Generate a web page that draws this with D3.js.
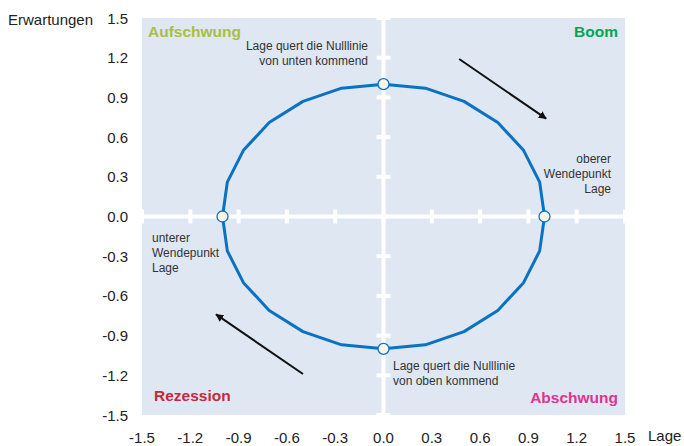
<!DOCTYPE html>
<html lang="de">
<head>
<meta charset="UTF-8">
<title>Konjunkturuhr</title>
<script src="https://d3js.org/d3.v7.min.js"></script>
<style>
    body { margin: 0; background: #fff; }
    svg text { font-family: "Liberation Sans", Arial, sans-serif; }
    .tick-label { font-size: 15px; fill: #222; }
    .note { font-size: 12px; fill: #333; }
    .phase { font-size: 15.5px; font-weight: bold; }
</style>
</head>
<body>
<div id="chart"></div>
<script>
    // Konjunkturzyklus: Lage (x) gegen Erwartungen (y)
    var lage = [0, 0.26, 0.5, 0.71, 0.87, 0.97, 1, 0.97, 0.87, 0.71, 0.5, 0.26,
                0, -0.26, -0.5, -0.71, -0.87, -0.97, -1, -0.97, -0.87, -0.71, -0.5, -0.26, 0];
    var erwartungen = [1, 0.97, 0.87, 0.71, 0.5, 0.26, 0, -0.26, -0.5, -0.71, -0.87, -0.97,
                       -1, -0.97, -0.87, -0.71, -0.5, -0.26, 0, 0.26, 0.5, 0.71, 0.87, 0.97, 1];

    // markierte Punkte (Nulldurchgänge)
    var markLage = [0, 1, 0, -1];
    var markErw = [1, 0, -1, 0];

    var ticks = [-1.5, -1.2, -0.9, -0.6, -0.3, 0, 0.3, 0.6, 0.9, 1.2, 1.5];
    var tickLabels = ["-1.5", "-1.2", "-0.9", "-0.6", "-0.3", "0.0", "0.3", "0.6", "0.9", "1.2", "1.5"];

    var phases = ["Aufschwung", "Boom", "Rezession", "Abschwung"];

    var width = 684, height = 446;

    var x = d3.scaleLinear().domain([-1.5, 1.5]).range([142, 625]);
    var y = d3.scaleLinear().domain([-1.5, 1.5]).range([415, 18]);

    var svg = d3.select("#chart").append("svg")
        .attr("width", width)
        .attr("height", height);

    svg.append("defs").append("marker")
        .attr("id", "arrow")
        .attr("viewBox", "0 0 10 10")
        .attr("refX", 9).attr("refY", 5)
        .attr("markerWidth", 4).attr("markerHeight", 4)
        .attr("orient", "auto")
      .append("path")
        .attr("d", "M0,0 L10,5 L0,10 z")
        .attr("fill", "#111");

    // Hintergrund
    svg.append("rect")
        .attr("x", x(-1.5)).attr("y", y(1.5))
        .attr("width", x(1.5) - x(-1.5))
        .attr("height", y(-1.5) - y(1.5))
        .attr("fill", "#dfe7f3");

    // Achsen als weiße Linien
    svg.append("line")
        .attr("x1", x(-1.5)).attr("x2", x(1.5))
        .attr("y1", y(0)).attr("y2", y(0))
        .attr("stroke", "#fff").attr("stroke-width", 4);
    svg.append("line")
        .attr("x1", x(0)).attr("x2", x(0))
        .attr("y1", y(1.5)).attr("y2", y(-1.5))
        .attr("stroke", "#fff").attr("stroke-width", 4);

    // Tickmarken auf den Achsen
    svg.selectAll(".xmark").data(ticks).enter().append("line")
        .attr("x1", d => x(d)).attr("x2", d => x(d))
        .attr("y1", y(0) - 7).attr("y2", y(0) + 7)
        .attr("stroke", "#fff").attr("stroke-width", 4);
    svg.selectAll(".ymark").data(ticks).enter().append("line")
        .attr("x1", x(0) - 7).attr("x2", x(0) + 7)
        .attr("y1", d => y(d)).attr("y2", d => y(d))
        .attr("stroke", "#fff").attr("stroke-width", 4);

    // Achsenbeschriftung
    svg.selectAll(".xlab").data(ticks).enter().append("text")
        .attr("class", "tick-label")
        .attr("x", d => x(d)).attr("y", 443)
        .attr("text-anchor", "middle")
        .text((d, i) => tickLabels[i]);
    svg.selectAll(".ylab").data(ticks).enter().append("text")
        .attr("class", "tick-label")
        .attr("x", 128).attr("y", d => y(d) + 5.5)
        .attr("text-anchor", "end")
        .text((d, i) => tickLabels[i]);

    svg.append("text").attr("class", "tick-label")
        .attr("x", 8).attr("y", 25).text("Erwartungen");
    svg.append("text").attr("class", "tick-label")
        .attr("x", 648).attr("y", 441).text("Lage");

    // Phasen
    var phaseColor = ["#a8c03d", "#00a651", "#c8283c", "#e0338e"];
    var phasePos = [[148, 37, "start"], [618, 37, "end"], [154, 401, "start"], [618, 403, "end"]];
    svg.selectAll(".phase").data(phases).enter().append("text")
        .attr("class", "phase")
        .attr("x", (d, i) => phasePos[i][0])
        .attr("y", (d, i) => phasePos[i][1])
        .attr("text-anchor", (d, i) => phasePos[i][2])
        .attr("fill", (d, i) => phaseColor[i])
        .text(d => d);

    // Zyklus
    var line = d3.line()
        .x((d, i) => x(lage[i]))
        .y((d, i) => y(erwartungen[i]));

    svg.append("path")
        .datum(lage)
        .attr("d", line)
        .attr("fill", "none")
        .attr("stroke", "#0a72c2")
        .attr("stroke-width", 3)
        .attr("stroke-linejoin", "round");

    svg.selectAll(".mark").data(markLage).enter().append("circle")
        .attr("cx", d => x(d))
        .attr("cy", (d, i) => y(markErw[i]))
        .attr("r", 5.5)
        .attr("fill", "#fdf6e6")
        .attr("stroke", "#0a72c2")
        .attr("stroke-width", 1.3);

    // Richtungspfeile
    var arrows = [[0.47, 1.19, 1.01, 0.74], [-0.5, -1.19, -1.04, -0.74]];
    svg.selectAll(".arrow").data(arrows).enter().append("line")
        .attr("x1", d => x(d[0])).attr("y1", d => y(d[1]))
        .attr("x2", d => x(d[2])).attr("y2", d => y(d[3]))
        .attr("stroke", "#111").attr("stroke-width", 2)
        .attr("marker-end", "url(#arrow)");

    // Notizen
    function note(lines, px, py, anchor) {
        var t = svg.append("text").attr("class", "note")
            .attr("text-anchor", anchor);
        lines.forEach(function(s, i) {
            t.append("tspan").attr("x", px).attr("y", py + i * 15).text(s);
        });
    }
    note(["Lage quert die Nulllinie", "von unten kommend"], 368, 50, "end");
    note(["oberer", "Wendepunkt", "Lage"], 611, 163, "end");
    note(["unterer", "Wendepunkt", "Lage"], 152, 242, "start");
    note(["Lage quert die Nulllinie", "von oben kommend"], 393, 370, "start");
</script>
</body>
</html>
